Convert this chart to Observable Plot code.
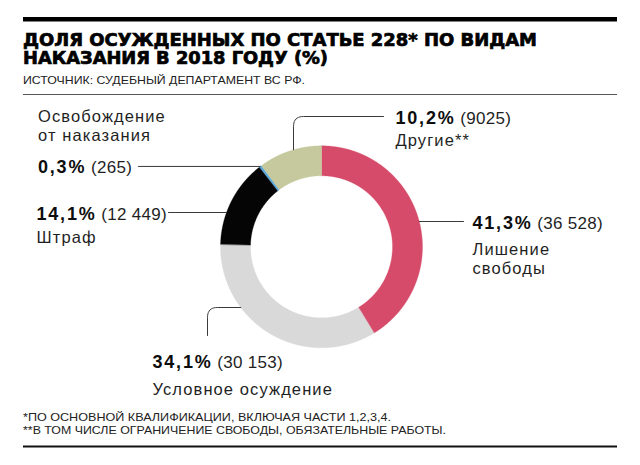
<!DOCTYPE html>
<html><head><meta charset="utf-8">
<script src="https://cdn.jsdelivr.net/npm/d3@7"></script>
<script src="https://cdn.jsdelivr.net/npm/@observablehq/plot@0.6"></script>
<style>
body{margin:0;background:#fff;width:640px;height:465px;overflow:hidden;}
svg{display:block;}
svg text{font-family:"Liberation Sans",Arial,sans-serif;}
</style></head><body>
<div id="root"></div>
<script>
// ---- data ----
const title1 = "ДОЛЯ ОСУЖДЕННЫХ ПО СТАТЬЕ 228* ПО ВИДАМ";
const title2 = "НАКАЗАНИЯ В 2018 ГОДУ (%)";
const source = "ИСТОЧНИК: СУДЕБНЫЙ ДЕПАРТАМЕНТ ВС РФ.";
const notes = ["*ПО ОСНОВНОЙ КВАЛИФИКАЦИИ, ВКЛЮЧАЯ ЧАСТИ 1,2,3,4.",
               "**В ТОМ ЧИСЛЕ ОГРАНИЧЕНИЕ СВОБОДЫ, ОБЯЗАТЕЛЬНЫЕ РАБОТЫ."];
const categories = ["Лишение\nсвободы", "Условное осуждение", "Штраф", "Освобождение\nот наказания", "Другие**"];
const counts = [36528, 30153, 12449, 265, 9025];
const percents = ["41,3", "34,1", "14,1", "0,3", "10,2"];
const colors = ["#d64b6a", "#d9d9d9", "#050505", "#55a6dc", "#c5c99d"];

// ---- layout (page pixels) ----
const W = 640, TOP = 95, H = 305;
const CX = 321, CY = 246.3, R0 = 71, R1 = 101;
// label anchor: x, baseline of stat line, baseline of first name line
const labelPos = [
  {x: 472, stat: 228, name: 254},
  {x: 152, stat: 367, name: 394},
  {x: 36, stat: 219, name: 242},
  {x: 37.5, stat: 172, name: 121},
  {x: 395, stat: 123, name: 145}
];

const ns = "http://www.w3.org/2000/svg";
const root = document.getElementById("root");
function svgEl(tag, attrs, parent, txt) {
  const e = document.createElementNS(ns, tag);
  for (const k in attrs) e.setAttribute(k, attrs[k]);
  if (txt != null) e.textContent = txt;
  parent.appendChild(e);
  return e;
}
// header
const hdr = svgEl("svg", {width: W, height: TOP}, root);
svgEl("rect", {x: 23, y: 17, width: 594, height: 4.5, fill: "#000"}, hdr);
const tAttrs = {x: 23, "font-weight": "bold", "font-size": 17.5, fill: "#000", stroke: "#000", "stroke-width": 0.7, lengthAdjust: "spacingAndGlyphs", style: "font-family:'DejaVu Sans'"};
svgEl("text", {...tAttrs, y: 45.6, textLength: 514}, hdr, title1);
svgEl("text", {...tAttrs, y: 64, textLength: 305}, hdr, title2);
svgEl("text", {x: 23, y: 83.5, "font-size": 11.3, fill: "#222", textLength: 282, lengthAdjust: "spacingAndGlyphs"}, hdr, source);
svgEl("line", {x1: 23, x2: 617, y1: 94.5, y2: 94.5, stroke: "#555", "stroke-width": 1}, hdr);

// ---- geometry from data ----
const total = d3.sum(counts);
let acc = 0;
const slices = counts.map((v, i) => {
  const a0 = acc / total * 2 * Math.PI; acc += v;
  const a1 = acc / total * 2 * Math.PI;
  return {cat: categories[i], a0, a1, v};
});
const P = (a, r) => ({x: CX + r * Math.sin(a), y: CY - TOP - r * Math.cos(a)});
const polys = [];
// draw larger slices first so the thin slice stays visible on top
for (const s of slices.slice().sort((a, b) => b.v - a.v)) {
  const n = Math.max(2, Math.ceil((s.a1 - s.a0) / 0.004));
  for (let k = 0; k <= n; k++) polys.push({cat: s.cat, ...P(s.a0 + (s.a1 - s.a0) * k / n, R1)});
  for (let k = n; k >= 0; k--) polys.push({cat: s.cat, ...P(s.a0 + (s.a1 - s.a0) * k / n, R0)});
}

// leader lines with rounded corners
function rounded(pts, r) {
  const out = [pts[0]];
  for (let i = 1; i < pts.length - 1; i++) {
    const A = pts[i - 1], B = pts[i], C = pts[i + 1];
    const la = Math.hypot(A.x - B.x, A.y - B.y), lc = Math.hypot(C.x - B.x, C.y - B.y);
    const P1 = {x: B.x + (A.x - B.x) / la * r, y: B.y + (A.y - B.y) / la * r};
    const P2 = {x: B.x + (C.x - B.x) / lc * r, y: B.y + (C.y - B.y) / lc * r};
    for (let k = 0; k <= 10; k++) {
      const t = k / 10;
      out.push({x: (1-t)*(1-t)*P1.x + 2*(1-t)*t*B.x + t*t*P2.x, y: (1-t)*(1-t)*P1.y + 2*(1-t)*t*B.y + t*t*P2.y});
    }
  }
  out.push(pts[pts.length - 1]);
  return out;
}
const onCircleY = (y, side) => ({x: CX + side * Math.sqrt(R1 * R1 - (y - CY) ** 2), y});
const onCircleX = (x) => ({x, y: CY - Math.sqrt(R1 * R1 - (x - CX) ** 2)});
const blueMid = (slices[3].a0 + slices[3].a1) / 2;
const bp = {x: CX + R1 * Math.sin(blueMid), y: CY - R1 * Math.cos(blueMid)};
const leaderPaths = [
  [onCircleY(221, 1), {x: 463, y: 221}],
  [onCircleY(307, -1), {x: 207, y: 307}, {x: 207, y: 335}],
  [onCircleY(212, -1), {x: 168, y: 212}],
  [bp, {x: 138, y: bp.y}],
  [onCircleX(293), {x: 293, y: 116}, {x: 383, y: 116}]
];
const leaders = [];
leaderPaths.forEach((p, i) => rounded(p, 10).forEach(q => leaders.push({id: i, x: q.x, y: q.y - TOP})));

// text measurement
const ctx = document.createElement("canvas").getContext("2d");
const BF = 18, BLS = 1.8, RF = 17, RLS = 0.3, NF = 16.5, NLS = 1.1, NLH = 1.18;
ctx.font = `bold ${BF}px "Liberation Sans"`;
const statRows = counts.map((v, i) => {
  const ptxt = percents[i] + "%";
  const w = ctx.measureText(ptxt).width + (ptxt.length - 1) * BLS;
  const ctxt = "(" + (v >= 10000 ? d3.format(",")(v).replace(",", " ") : String(v)) + ")";
  const L = labelPos[i];
  return {ptxt, ctxt, x: L.x, x2: L.x + w + 6.5, y: L.stat - TOP - 0.71 * BF, y2: L.stat - TOP - 0.71 * RF};
});
const nameRows = categories.map((c, i) => ({name: c, x: labelPos[i].x, y: labelPos[i].name - TOP - 0.71 * NLH * NF}));

const chart = Plot.plot({
  width: W, height: H,
  margin: 0,
  x: {domain: [0, W], range: [0, W], axis: null},
  y: {domain: [0, H], range: [0, H], axis: null},
  color: {domain: categories, range: colors},
  style: {fontFamily: "'Liberation Sans', Arial, sans-serif", background: "transparent"},
  marks: [
    Plot.line(polys, {x: "x", y: "y", z: "cat", fill: "cat", stroke: "cat", strokeWidth: 0.3, curve: "linear-closed"}),
    Plot.line(leaders, {x: "x", y: "y", z: "id", stroke: "#3a3a3a", strokeWidth: 1}),
    Plot.text(statRows, {x: "x", y: "y", text: "ptxt", fontSize: BF, fontWeight: "bold", fill: "#0d0d0d", textAnchor: "start", lineAnchor: "top"}),
    Plot.text(statRows, {x: "x2", y: "y2", text: "ctxt", fontSize: RF, fill: "#1f1f1f", textAnchor: "start", lineAnchor: "top"}),
    Plot.text(nameRows, {x: "x", y: "y", text: "name", fontSize: NF, fill: "#1f1f1f", textAnchor: "start", lineAnchor: "top", lineHeight: NLH})
  ]
});
const textGroups = d3.select(chart).selectAll('g[aria-label="text"]').nodes();
[BLS, RLS, NLS].forEach((ls, i) => {
  if (textGroups[i]) d3.select(textGroups[i]).style("letter-spacing", ls + "px");
});
root.appendChild(chart);

// footer
const ftr = svgEl("svg", {width: W, height: 465 - TOP - H}, root);
const FY = TOP + H;
svgEl("text", {x: 23, y: 420.5 - FY, "font-size": 11.3, fill: "#222", textLength: 368, lengthAdjust: "spacingAndGlyphs"}, ftr, notes[0]);
svgEl("text", {x: 23, y: 434 - FY, "font-size": 11.3, fill: "#222", textLength: 423, lengthAdjust: "spacingAndGlyphs"}, ftr, notes[1]);
svgEl("rect", {x: 23, y: 445.5 - FY, width: 594, height: 2, fill: "#111"}, ftr);
</script>
</body></html>
